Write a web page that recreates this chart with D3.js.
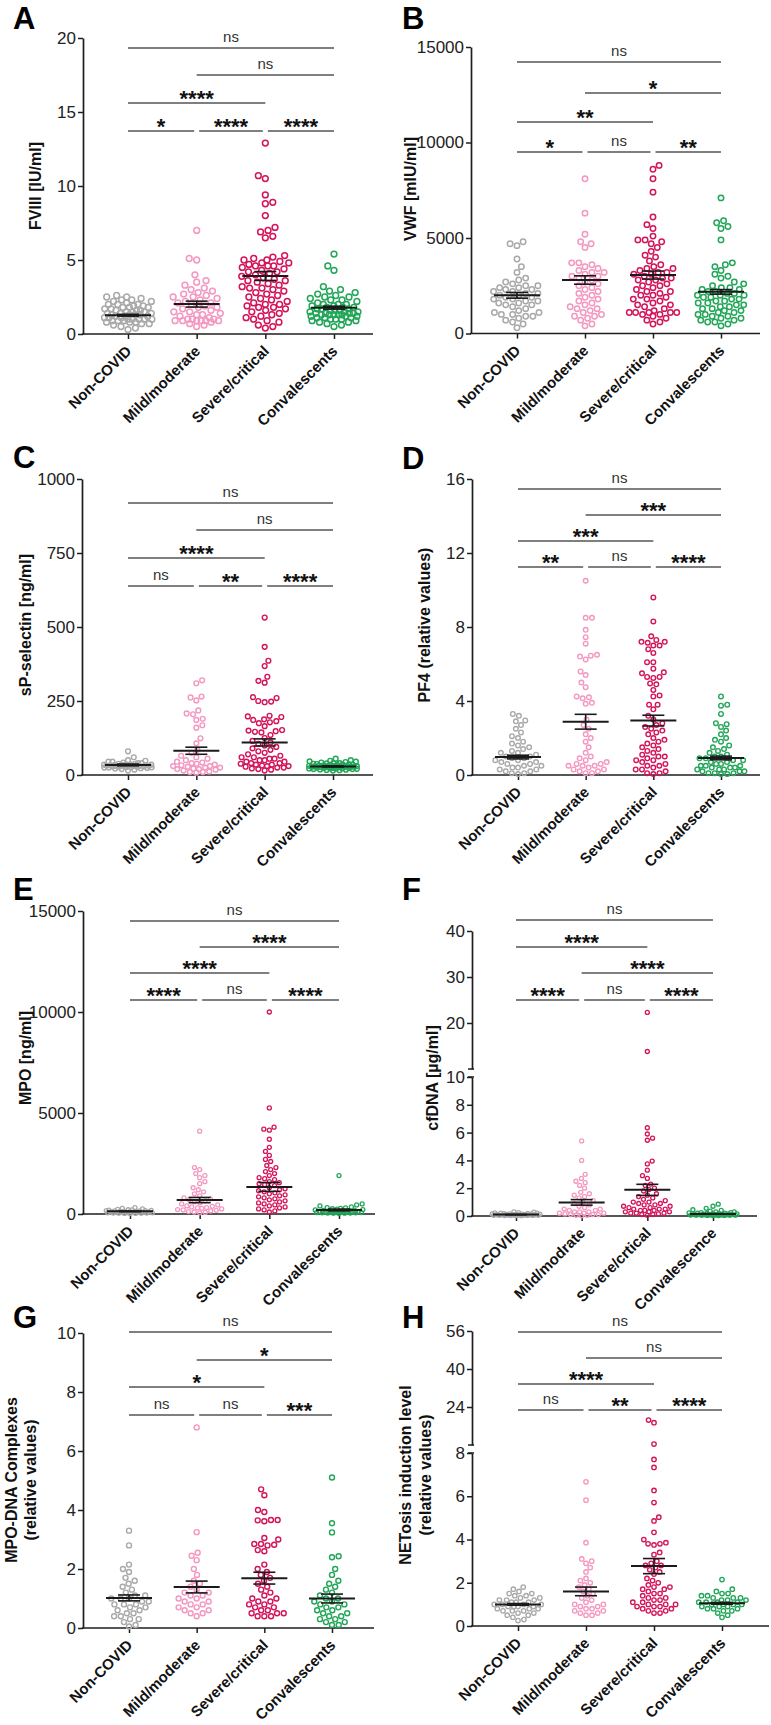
<!DOCTYPE html>
<html><head><meta charset="utf-8">
<script src="https://cdn.jsdelivr.net/npm/d3@7"></script>
<style>
html,body{margin:0;padding:0;background:#fff;}
svg{display:block;font-family:"Liberation Sans",Arial,Helvetica,sans-serif;}
</style></head>
<body>
<svg id="chart" width="771" height="1725"></svg>
<script>
// ---------------- DATA ----------------
const categories  = ["Non-COVID","Mild/moderate","Severe/critical","Convalescents"];
const categoriesF = ["Non-COVID","Mild/modrate","Severe/crtical","Convalescence"];
const groupColors = ["#a9a9a9","#f497c1","#d4145a","#22a658"];
const sigPairs = [[0,1],[1,2],[2,3],[0,2],[1,3],[0,3]];

// A: FVIII [IU/ml]
const fviiiNon = [2.6,2.5,2.5,2.4,2.3,2.3,2.2,2.2,2.1,2.0,2.0,2.0,1.9,1.9,1.8,1.8,1.8,1.7,1.7,1.6,1.6,1.6,1.5,1.5,1.5,1.4,1.4,1.4,1.3,1.3,1.3,1.3,1.2,1.2,1.2,1.1,1.1,1.1,1.0,1.0,1.0,1.0,1.0,0.9,0.9,0.9,0.8,0.8,0.8,0.7,0.7,0.6,0.5,0.4,0.3];
const fviiiMild = [7.0,5.1,5.0,4.0,3.6,3.5,3.3,3.1,3.0,2.9,2.8,2.7,2.6,2.5,2.5,2.4,2.3,2.2,2.1,2.1,2.0,1.9,1.8,1.8,1.7,1.6,1.5,1.5,1.4,1.3,1.3,1.2,1.1,1.0,1.0,1.0,0.9,0.9,0.9,0.9,0.9,0.9,0.8,0.7,0.6,0.5];
const fviiiSevere = [12.9,10.7,10.5,9.4,8.9,8.8,8.0,7.2,7.0,6.9,6.6,6.5,5.3,5.2,5.1,5.0,5.0,4.9,4.8,4.8,4.7,4.6,4.6,4.6,4.5,4.4,4.3,4.2,4.2,4.1,4.0,3.9,3.8,3.7,3.6,3.6,3.5,3.4,3.3,3.2,3.1,3.1,3.0,2.9,2.8,2.7,2.6,2.5,2.4,2.3,2.2,2.1,2.0,2.0,1.9,1.8,1.8,1.7,1.6,1.5,1.4,1.3,1.2,1.1,1.0,0.9,0.8,0.6,0.5,0.4];
const fviiiConv = [5.4,4.6,4.3,3.2,3.0,2.9,2.8,2.7,2.6,2.5,2.5,2.4,2.3,2.3,2.2,2.1,2.0,2.0,2.0,1.9,1.9,1.8,1.8,1.8,1.7,1.7,1.7,1.6,1.6,1.6,1.5,1.5,1.5,1.4,1.4,1.4,1.4,1.3,1.3,1.3,1.3,1.3,1.2,1.2,1.2,1.1,1.1,1.1,1.0,1.0,1.0,0.9,0.9,0.8,0.8,0.7,0.6,0.5];
const fviiiMean = [1.27,2.02,3.92,1.78];
const fviiiSem  = [0.06,0.2,0.3,0.1];
const fviiiSig  = ["*","****","****","****","ns","ns"];
const fviiiTicks = [0,5,10,15,20];

// B: VWF [mIU/ml]
const vwfNon = [4800,4700,4600,3900,3500,3200,2900,2800,2700,2600,2500,2500,2400,2400,2300,2300,2200,2200,2100,2100,2000,2000,1900,1900,1800,1800,1700,1700,1600,1600,1500,1500,1400,1300,1200,1100,1100,1000,1000,900,900,800,700,600,500,300];
const vwfMild = [8100,6300,5200,4800,4700,4500,3700,3700,3600,3500,3400,3300,3200,3200,3100,3000,3000,2900,2800,2700,2600,2500,2400,2300,2200,2100,2000,1900,1800,1700,1600,1500,1400,1300,1300,1200,1100,1000,900,900,800,700,500,400];
const vwfSevere = [8800,8600,8100,7400,6100,5700,5500,5100,4900,4900,4800,4700,4500,4300,4100,4000,3800,3600,3500,3400,3400,3300,3200,3200,3100,3100,3000,2900,2900,2800,2800,2700,2600,2500,2500,2400,2300,2200,2200,2100,2000,2000,1900,1800,1800,1700,1600,1500,1500,1400,1300,1200,1100,1100,1100,1100,1100,1000,1000,900,800,700,600,500];
const vwfConv = [7100,5900,5800,5600,5500,4900,3700,3600,3500,3300,3100,3000,2900,2700,2600,2500,2400,2400,2300,2300,2200,2200,2100,2100,2000,2000,2000,1900,1900,1800,1800,1700,1700,1600,1600,1500,1500,1400,1400,1300,1300,1200,1200,1100,1100,1000,1000,900,900,800,800,700,700,600,600,500,400];
const vwfMean = [2000,2800,3060,2180];
const vwfSem  = [150,220,210,120];
const vwfSig  = ["*","ns","**","**","*","ns"];
const vwfTicks = [0,5000,10000,15000];

// C: sP-selectin [ng/ml]
const selNon = [80,60,50,48,45,45,42,40,40,38,38,36,36,35,35,34,34,33,33,32,32,31,31,30,30,30,29,29,28,28,27,27,26,25,25,24,23,22,20,18,15];
const selMild = [320,310,265,262,252,218,208,205,190,186,168,160,124,107,85,75,65,60,55,50,45,42,40,38,35,33,30,30,28,25,25,22,20,20,18,15,12,10,10,8];
const selSevere = [532,433,386,368,332,318,312,263,260,250,248,246,200,198,196,188,186,182,178,175,165,152,150,148,146,144,135,125,115,110,105,100,95,90,85,80,75,70,65,60,60,55,55,50,50,45,45,40,40,38,35,35,32,30,30,28,25,25,22,20,18,15];
const selConv = [55,50,48,46,45,44,42,40,40,39,38,37,36,35,35,34,33,33,32,32,31,31,30,30,30,29,29,28,28,28,27,27,26,26,25,25,24,24,23,23,22,22,21,20,20,19,18,17,16,15];
const selMean = [34,82,110,29];
const selSem  = [3,12,12,2];
const selSig  = ["ns","**","****","****","ns","ns"];
const selTicks = [0,250,500,750,1000];

// D: PF4 (relative values)
const pf4Non = [3.3,3.2,2.95,2.9,2.7,2.5,2.3,2.1,2.0,1.8,1.7,1.6,1.5,1.4,1.3,1.2,1.2,1.1,1.0,1.0,0.9,0.9,0.8,0.8,0.7,0.7,0.6,0.6,0.5,0.5,0.4,0.4,0.3,0.3,0.2,0.2,0.1,0.1,0.05];
const pf4Mild = [10.5,8.5,8.5,7.85,7.45,7.1,6.5,6.45,6.4,6.25,5.6,5.4,5.0,4.75,4.25,4.2,4.15,3.9,3.85,3.0,2.7,2.5,2.2,2.0,1.8,1.5,1.2,1.0,0.9,0.8,0.7,0.6,0.6,0.5,0.5,0.5,0.4,0.3,0.3,0.2,0.2,0.1,0.1];
const pf4Severe = [9.6,8.3,7.5,7.3,7.2,7.2,7.15,7.0,7.0,6.8,6.6,6.1,6.1,5.75,5.55,5.5,5.3,5.3,5.25,4.95,4.9,4.6,4.3,4.25,3.8,3.8,3.55,3.2,3.0,2.8,2.7,2.6,2.5,2.4,2.3,2.2,2.0,1.9,1.8,1.7,1.6,1.5,1.4,1.3,1.2,1.1,1.0,1.0,0.9,0.8,0.8,0.7,0.6,0.5,0.5,0.4,0.3,0.3,0.2,0.1,0.1,0.05];
const pf4Conv = [4.25,3.8,3.75,3.3,2.8,2.75,2.6,2.4,2.2,2.0,1.9,1.8,1.6,1.5,1.4,1.3,1.2,1.1,1.0,1.0,0.9,0.9,0.8,0.8,0.7,0.7,0.6,0.6,0.5,0.5,0.5,0.4,0.4,0.4,0.3,0.3,0.3,0.2,0.2,0.2,0.1,0.1,0.1,0.05,0.05];
const pf4Mean = [0.97,2.88,2.94,0.92];
const pf4Sem  = [0.1,0.4,0.29,0.1];
const pf4Sig  = ["**","ns","****","***","***","ns"];
const pf4Ticks = [0,4,8,12,16];

// E: MPO [ng/ml]
const mpoNon = [320,280,250,230,210,200,190,180,170,160,150,150,140,130,130,120,110,110,100,100,90,90,80,80,70,70,60,60,50,50,40,40,30,30,20];
const mpoMild = [4100,2300,2200,2000,1900,1800,1600,1500,1300,1200,1100,1000,900,800,750,700,650,600,550,500,450,400,380,350,320,300,280,250,220,200,180,150,120,100,80,60];
const mpoSevere = [10000,5250,4300,4200,4150,3700,3300,3100,2900,2700,2600,2400,2300,2200,2100,2000,1900,1800,1750,1700,1600,1550,1500,1450,1400,1300,1250,1200,1150,1100,1050,1000,950,900,850,800,750,700,650,600,550,500,450,400,350,300,250,200,150,100];
const mpoConv = [1900,500,450,400,350,320,300,280,260,240,220,200,190,180,170,160,150,140,130,120,110,100,100,90,90,80,80,70,70,60,60,50,50,40,40,30];
const mpoMean = [130,690,1340,200];
const mpoSem  = [15,130,220,45];
const mpoSig  = ["****","ns","****","****","****","ns"];
const mpoTicks = [0,5000,10000,15000];

// F: cfDNA [µg/ml] (broken axis)
const cfNon = [0.3,0.28,0.25,0.22,0.2,0.2,0.18,0.17,0.16,0.15,0.15,0.14,0.13,0.12,0.12,0.11,0.1,0.1,0.1,0.09,0.09,0.08,0.08,0.07,0.07,0.06,0.06,0.05,0.05,0.05,0.04,0.04,0.03,0.03,0.02,0.02];
const cfMild = [5.4,4.0,3.0,2.7,2.5,2.4,2.2,2.0,1.7,1.6,1.5,1.4,1.3,1.1,1.0,0.9,0.8,0.7,0.6,0.5,0.5,0.4,0.4,0.3,0.3,0.3,0.2,0.2,0.2,0.15,0.1,0.1,0.1,0.05,0.05,0.02];
const cfSevere = [22.3,13.8,6.35,5.9,5.6,5.45,3.95,3.75,3.3,2.9,2.7,2.3,2.2,2.0,1.9,1.8,1.6,1.5,1.4,1.3,1.2,1.1,1.0,1.0,0.9,0.9,0.8,0.8,0.7,0.7,0.6,0.6,0.5,0.5,0.5,0.4,0.4,0.4,0.3,0.3,0.3,0.2,0.2,0.2,0.15,0.1,0.1,0.05];
const cfConv = [0.85,0.7,0.55,0.45,0.4,0.35,0.3,0.3,0.25,0.25,0.22,0.2,0.2,0.18,0.17,0.16,0.15,0.15,0.14,0.13,0.12,0.12,0.11,0.1,0.1,0.1,0.09,0.09,0.08,0.08,0.07,0.07,0.06,0.06,0.05,0.05,0.04,0.04,0.03,0.03];
const cfMean = [0.1,0.98,1.88,0.15];
const cfSem  = [0.01,0.2,0.4,0.02];
const cfSig  = ["****","ns","****","****","****","ns"];
const cfTicksLow = [0,2,4,6,8,10];
const cfTicksHigh = [20,30,40];

// G: MPO-DNA complexes (relative values)
const mdNon = [3.3,2.8,2.15,2.0,1.9,1.7,1.6,1.5,1.4,1.3,1.2,1.1,1.1,1.0,1.0,1.0,0.9,0.9,0.8,0.8,0.8,0.7,0.7,0.6,0.6,0.5,0.5,0.4,0.4,0.3,0.3,0.2,0.1,0.05];
const mdMild = [6.8,3.25,2.55,2.45,2.3,2.0,1.8,1.6,1.5,1.4,1.3,1.2,1.2,1.1,1.1,1.0,1.0,0.9,0.9,0.8,0.8,0.7,0.7,0.6,0.6,0.5,0.5,0.4];
const mdSevere = [4.7,4.5,4.0,3.93,3.66,3.66,3.65,3.62,3.05,3.0,2.85,2.85,2.82,2.8,2.64,2.6,2.15,2.0,1.9,1.8,1.7,1.6,1.5,1.4,1.3,1.2,1.1,1.0,1.0,0.9,0.9,0.8,0.8,0.7,0.7,0.6,0.6,0.5,0.5,0.5,0.4,0.4,0.4];
const mdConv = [5.1,3.55,3.24,2.43,2.4,2.0,1.8,1.6,1.5,1.4,1.3,1.2,1.1,1.0,1.0,0.9,0.9,0.8,0.8,0.7,0.7,0.6,0.6,0.5,0.5,0.4,0.4,0.3,0.3,0.2,0.2,0.1,0.1];
const mdMean = [1.02,1.39,1.69,1.0];
const mdSem  = [0.1,0.2,0.2,0.15];
const mdSig  = ["ns","ns","***","*","*","ns"];
const mdTicks = [0,2,4,6,8,10];

// H: NETosis induction level (relative values) (broken axis)
const netNon = [1.8,1.7,1.6,1.5,1.5,1.4,1.4,1.3,1.3,1.2,1.2,1.2,1.1,1.1,1.1,1.0,1.0,1.0,1.0,0.9,0.9,0.9,0.9,0.8,0.8,0.8,0.7,0.7,0.7,0.6,0.6,0.5,0.5,0.4,0.3,0.25];
const netMild = [6.67,5.82,3.85,3.1,3.0,2.9,2.7,2.5,2.2,2.1,2.0,1.9,1.8,1.7,1.6,1.5,1.4,1.3,1.2,1.1,1.0,1.0,0.9,0.9,0.8,0.8,0.7,0.7,0.6,0.6,0.5,0.5];
const netSevere = [18.5,17.4,8.4,7.7,7.33,6.27,5.71,5.03,4.86,4.33,4.0,3.85,3.8,3.8,3.75,3.4,3.3,3.0,2.9,2.8,2.8,2.7,2.6,2.5,2.4,2.2,2.1,2.0,1.9,1.8,1.8,1.7,1.7,1.6,1.5,1.5,1.4,1.3,1.3,1.2,1.2,1.1,1.1,1.0,1.0,1.0,0.9,0.9,0.9,0.8,0.8,0.7,0.7,0.6,0.6];
const netConv = [2.15,1.7,1.6,1.5,1.5,1.4,1.4,1.3,1.3,1.3,1.2,1.2,1.2,1.1,1.1,1.1,1.1,1.0,1.0,1.0,1.0,0.9,0.9,0.9,0.8,0.8,0.8,0.7,0.7,0.6,0.5,0.4];
const netMean = [1.0,1.6,2.77,1.05];
const netSem  = [0.04,0.2,0.35,0.04];
const netSig  = ["ns","**","****","****","ns","ns"];
const netTicksLow = [0,2,4,6,8];
const netTicksHigh = [24,40,56];

// ---------------- LAYOUT ----------------
const panels = [
 {label:"A", lx:13, ly:29, axisX:83, xEnd:373, cx:[128,334], y0:334, yTop:38, max:20, ticks:fviiiTicks,
  groups:[fviiiNon,fviiiMild,fviiiSevere,fviiiConv], mean:fviiiMean, sem:fviiiSem, sig:fviiiSig, cats:categories,
  title:["FVIII [IU/ml]"], tx:[35], ty:186, r:2.9, sw:1.5, br:[131,131,131,103,75,48]},
 {label:"B", lx:402, ly:29, axisX:471, xEnd:760, cx:[517,721], y0:333.5, yTop:47, max:15000, ticks:vwfTicks,
  groups:[vwfNon,vwfMild,vwfSevere,vwfConv], mean:vwfMean, sem:vwfSem, sig:vwfSig, cats:categories,
  title:["VWF [mIU/ml]"], tx:[410], ty:189, r:2.7, sw:1.5, br:[152,152,152,122,93,62]},
 {label:"C", lx:13, ly:468, axisX:82, xEnd:373, cx:[128,333], y0:775, yTop:479, max:1000, ticks:selTicks,
  groups:[selNon,selMild,selSevere,selConv], mean:selMean, sem:selSem, sig:selSig, cats:categories,
  title:["sP-selectin [ng/ml]"], tx:[25], ty:625, r:2.4, sw:1.4, br:[586,586,586,558,530,503]},
 {label:"D", lx:402, ly:469, axisX:472, xEnd:760, cx:[518,721], y0:775, yTop:479, max:16, ticks:pf4Ticks,
  groups:[pf4Non,pf4Mild,pf4Severe,pf4Conv], mean:pf4Mean, sem:pf4Sem, sig:pf4Sig, cats:categories,
  title:["PF4 (relative values)"], tx:[424], ty:625, r:2.3, sw:1.4, br:[567,567,567,541,515,489]},
 {label:"E", lx:13, ly:900, axisX:83, xEnd:375, cx:[130,339], y0:1214, yTop:911, max:15000, ticks:mpoTicks,
  groups:[mpoNon,mpoMild,mpoSevere,mpoConv], mean:mpoMean, sem:mpoSem, sig:mpoSig, cats:categories,
  title:["MPO [ng/ml]"], tx:[25], ty:1058, r:2.0, sw:1.3, br:[1000,1000,1000,973,947,921]},
 {label:"F", lx:402, ly:900, axisX:472, xEnd:757, cx:[516,713], y0:1216, broken:{brk:10, lowTop:1077, highBottom:1069, high:40, highTop:931, lowTicks:cfTicksLow, highTicks:cfTicksHigh},
  groups:[cfNon,cfMild,cfSevere,cfConv], mean:cfMean, sem:cfSem, sig:cfSig, cats:categoriesF,
  title:["cfDNA [µg/ml]"], tx:[432], ty:1078, r:2.0, sw:1.3, br:[1000,1000,1000,947,973,920]},
 {label:"G", lx:13, ly:1328, axisX:83, xEnd:374, cx:[129,332], y0:1628, yTop:1333, max:10, ticks:mdTicks,
  groups:[mdNon,mdMild,mdSevere,mdConv], mean:mdMean, sem:mdSem, sig:mdSig, cats:categories,
  title:["MPO-DNA Complexes","(relative values)"], tx:[11,30], ty:1480, r:2.5, sw:1.4, br:[1415,1415,1415,1387,1360,1332]},
 {label:"H", lx:402, ly:1328, axisX:472, xEnd:769, cx:[518,722], y0:1626, broken:{brk:8, lowTop:1453, highBottom:1445, high:56, highTop:1331, lowTicks:netTicksLow, highTicks:netTicksHigh},
  groups:[netNon,netMild,netSevere,netConv], mean:netMean, sem:netSem, sig:netSig, cats:categories,
  title:["NETosis induction level","(relative values)"], tx:[405,425], ty:1475, r:2.2, sw:1.35, br:[1410,1410,1410,1384,1358,1332]}
];

const svg = d3.select("#chart");
const AX = "#1e1e1e";

function swarm(vals, yf, cx, sep, maxHalf) {
  const pts = vals.map(v => ({v, y: yf(v)})).sort((a,b) => a.v - b.v);
  const placed = [];
  let flip = 1;
  pts.forEach(p => {
    let s = sep, x = null;
    while (x === null) {
      const near = placed.filter(q => Math.abs(q.y - p.y) < s);
      const cands = [0];
      near.forEach(q => { const dx = Math.sqrt(s*s - (q.y-p.y)**2); cands.push(q.x - cx - dx, q.x - cx + dx); });
      const ok = cands.filter(c => Math.abs(c) <= maxHalf &&
        near.every(q => (q.x - (cx + c))**2 + (q.y - p.y)**2 >= s*s - 0.05));
      if (ok.length) {
        ok.sort((a,b) => (Math.abs(a) - Math.abs(b)) || (a - b) * flip);
        x = cx + ok[0]; flip = -flip;
      } else s *= 0.88;
    }
    p.x = x; placed.push(p);
  });
  return placed;
}

panels.forEach(P => {
  const g = svg.append("g");
  let y, yAxes = [];
  if (P.broken) {
    const b = P.broken;
    const low = d3.scaleLinear().domain([0, b.brk]).range([P.y0, b.lowTop]);
    const high = d3.scaleLinear().domain([b.brk, b.high]).range([b.highBottom, b.highTop]);
    y = v => v <= b.brk ? low(v) : high(v);
    yAxes.push([low, b.lowTicks], [high, b.highTicks]);
  } else {
    const s = d3.scaleLinear().domain([0, P.max]).range([P.y0, P.yTop]);
    y = s;
    yAxes.push([s, P.ticks]);
  }
  const x = d3.scalePoint().domain(P.cats).range(P.cx);

  yAxes.forEach(([sc, tv]) => {
    const ax = g.append("g").attr("transform", `translate(${P.axisX},0)`)
      .call(d3.axisLeft(sc).tickValues(tv).tickSize(5).tickSizeOuter(0).tickPadding(2).tickFormat(d3.format("d")));
    ax.select(".domain").attr("stroke", AX).attr("stroke-width", 1.7);
    ax.selectAll(".tick line").attr("stroke", AX).attr("stroke-width", 1.5);
    ax.selectAll(".tick text").attr("font-size", 17).attr("fill", "#222")
      .attr("font-family", '"Liberation Sans",Arial,sans-serif');
  });
  if (P.broken) {
    const b = P.broken;
    [b.lowTop, b.highBottom].forEach(yy => {
      g.append("line").attr("x1", P.axisX - 4).attr("x2", P.axisX + 2).attr("y1", yy).attr("y2", yy)
        .attr("stroke", AX).attr("stroke-width", 1.5);
    });
  }

  const xa = g.append("g").attr("transform", `translate(0,${P.y0})`)
    .call(d3.axisBottom(x).tickSize(5).tickSizeOuter(0));
  xa.select(".domain").attr("d", `M${P.axisX - 1},0H${P.xEnd}`).attr("stroke", AX).attr("stroke-width", 1.7);
  xa.selectAll(".tick line").attr("stroke", AX).attr("stroke-width", 1.5);
  xa.selectAll(".tick text").attr("x", 0).attr("y", 0).attr("dy", 0)
    .attr("transform", "translate(4,18) rotate(-45)").attr("text-anchor", "end")
    .attr("font-size", 15).attr("font-weight", "bold").attr("fill", "#111")
    .attr("font-family", '"Liberation Sans",Arial,sans-serif');

  const sep = 2 * P.r + P.sw + 0.3;
  P.groups.forEach((vals, i) => {
    const cx = x(P.cats[i]);
    const pts = swarm(vals, y, cx, sep, 24);
    g.append("g").selectAll("circle").data(pts).join("circle")
      .attr("cx", d => d.x).attr("cy", d => d.y).attr("r", P.r)
      .attr("fill", "none").attr("stroke", groupColors[i]).attr("stroke-width", P.sw);
  });

  P.mean.forEach((m, i) => {
    const cx = x(P.cats[i]);
    const ym = y(m), yl = y(m - P.sem[i]), yh = y(m + P.sem[i]);
    const eg = g.append("g").attr("stroke", "#1a1a1a");
    eg.append("line").attr("x1", cx - 23).attr("x2", cx + 23).attr("y1", ym).attr("y2", ym).attr("stroke-width", 2);
    eg.append("line").attr("x1", cx).attr("x2", cx).attr("y1", yl).attr("y2", yh).attr("stroke-width", 1.6);
    eg.append("line").attr("x1", cx - 11).attr("x2", cx + 11).attr("y1", yl).attr("y2", yl).attr("stroke-width", 1.6);
    eg.append("line").attr("x1", cx - 11).attr("x2", cx + 11).attr("y1", yh).attr("y2", yh).attr("stroke-width", 1.6);
  });

  sigPairs.forEach(([a, b], k) => {
    const ly = P.br[k];
    let x1 = x(P.cats[a]), x2 = x(P.cats[b]);
    if (k < 3) { if (a > 0) x1 += 2.5; if (b < 3) x2 -= 2.5; }
    g.append("line").attr("x1", x1).attr("x2", x2).attr("y1", ly).attr("y2", ly)
      .attr("stroke", "#555").attr("stroke-width", 1.6);
    const lab = P.sig[k];
    const t = g.append("text").attr("x", (x1 + x2) / 2).attr("text-anchor", "middle").text(lab);
    if (lab === "ns") t.attr("y", ly - 6).attr("font-size", 15).attr("fill", "#333");
    else t.attr("y", ly + 3).attr("font-size", 22).attr("font-weight", "bold").attr("fill", "#111");
  });

  P.title.forEach((tt, j) => {
    g.append("text").attr("transform", `translate(${P.tx[j]},${P.ty}) rotate(-90)`)
      .attr("text-anchor", "middle").attr("dominant-baseline", "central")
      .attr("font-size", 16).attr("font-weight", "bold").attr("fill", "#111").text(tt);
  });

  g.append("text").attr("x", P.lx).attr("y", P.ly).attr("font-size", 31).attr("font-weight", "bold")
    .attr("fill", "#000").text(P.label);
});
</script>
</body></html>
